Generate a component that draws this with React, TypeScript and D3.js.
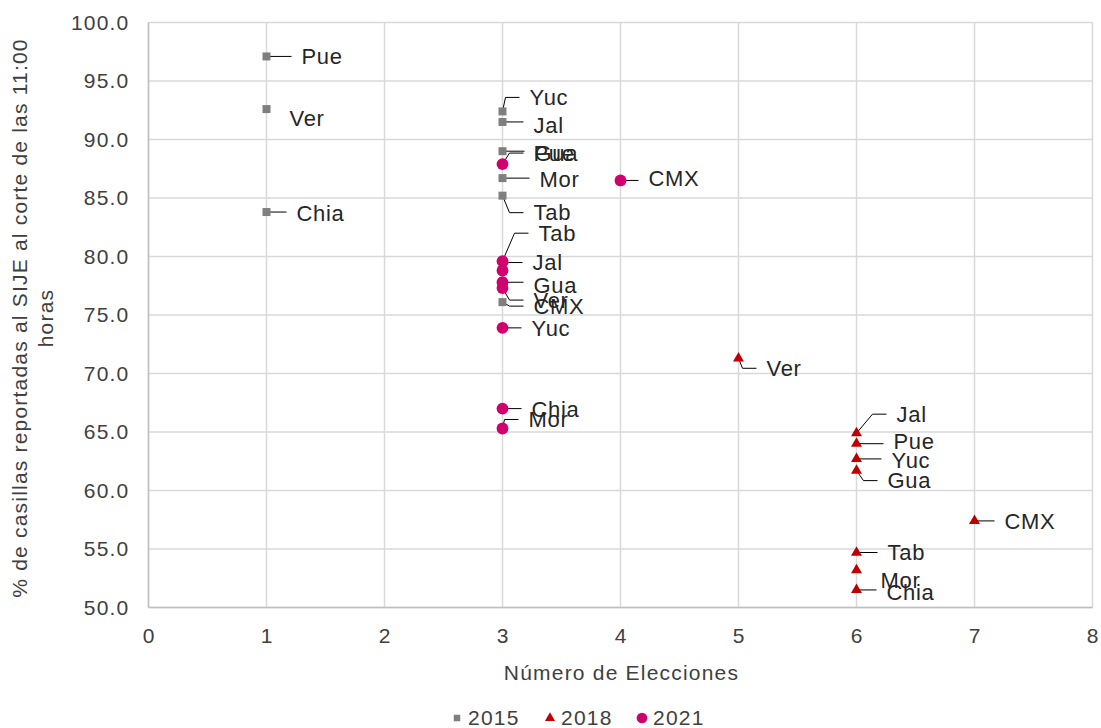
import { useEffect, useRef } from 'react';
import * as d3 from 'd3';

// 2015
const states2015 = ['Pue', 'Ver', 'Chia', 'Yuc', 'Jal', 'Gua', 'Mor', 'Tab', 'CMX'];
const elections2015 = [1, 1, 1, 3, 3, 3, 3, 3, 3];
const pct2015 = [97.1, 92.6, 83.8, 92.4, 91.5, 89.0, 86.7, 85.2, 76.1];

// 2018
const states2018 = ['Ver', 'Jal', 'Pue', 'Yuc', 'Gua', 'CMX', 'Tab', 'Mor', 'Chia'];
const elections2018 = [5, 6, 6, 6, 6, 7, 6, 6, 6];
const pct2018 = [71.3, 64.9, 64.0, 62.7, 61.7, 57.4, 54.7, 53.2, 51.5];

// 2021
const states2021 = ['Pue', 'CMX', 'Tab', 'Jal', 'Gua', 'Ver', 'Yuc', 'Chia', 'Mor'];
const elections2021 = [3, 4, 3, 3, 3, 3, 3, 3, 3];
const pct2021 = [87.9, 86.5, 79.6, 78.8, 77.8, 77.3, 73.9, 67.0, 65.3];

const xTicks = [0, 1, 2, 3, 4, 5, 6, 7, 8];
const yTicks = [50, 55, 60, 65, 70, 75, 80, 85, 90, 95, 100];
const seriesNames = ['2015', '2018', '2021'];

// label placement (px from marker), leader line flag — moved by hand like in Excel
type Off = [number, number, boolean];
const labelOff2015: Off[] = [
  [35, 0, true], [23, 9, false], [30, 1, true], [27, -14, true], [31, 3, true],
  [32, 2, true], [37, 1, true], [31, 17, true], [31, 4, true],
];
const labelOff2018: Off[] = [
  [28, 10, true], [40, -19, true], [37, -2, true], [35, 1, true], [31, 10, true],
  [30, 0, true], [31, 0, true], [24, 10, false], [30, 2, true],
];
const labelOff2021: Off[] = [
  [31, -11, true], [28, -2, true], [36, -28, true], [30, -8, true], [31, 3, true],
  [31, 12, true], [29, 0, true], [29, 1, true], [26, -9, true],
];

const FONT = '"Liberation Sans", Arial, sans-serif';
const COLORS = ['#7f7f7f', '#c00000', '#d1006e'];
const AXIS_TEXT = '#404040';

const App = () => {
  const svgRef = useRef<SVGSVGElement>(null);

  useEffect(() => {
    if (!svgRef.current) return;
    const W = 1101;
    const H = 728;
    const margin = { top: 22.5, right: 8.5, bottom: 120.5, left: 148.5 };
    const width = W - margin.left - margin.right;
    const height = H - margin.top - margin.bottom;

    d3.select(svgRef.current).selectAll('*').remove();
    const root = d3.select(svgRef.current).attr('width', W).attr('height', H);
    const svg = root.append('g').attr('transform', `translate(${margin.left},${margin.top})`);

    const x = d3.scaleLinear().domain([0, 8]).range([0, width]);
    const y = d3.scaleLinear().domain([50, 100]).range([height, 0]);

    // grid
    svg.append('g')
      .selectAll('line')
      .data(yTicks)
      .enter()
      .append('line')
      .attr('x1', 0).attr('x2', width)
      .attr('y1', d => y(d)).attr('y2', d => y(d))
      .attr('stroke', '#d9d9d9').attr('stroke-width', 1.5);
    svg.append('g')
      .selectAll('line')
      .data(xTicks)
      .enter()
      .append('line')
      .attr('x1', d => x(d)).attr('x2', d => x(d))
      .attr('y1', 0).attr('y2', height)
      .attr('stroke', '#d9d9d9').attr('stroke-width', 1.5);

    // axis lines
    svg.append('line').attr('x1', 0).attr('x2', 0).attr('y1', 0).attr('y2', height)
      .attr('stroke', '#bfbfbf').attr('stroke-width', 1.5);
    svg.append('line').attr('x1', 0).attr('x2', width).attr('y1', height).attr('y2', height)
      .attr('stroke', '#bfbfbf').attr('stroke-width', 1.5);

    const axisText = (sel: any, size = 21) => sel
      .style('font-family', FONT)
      .style('font-size', `${size}px`)
      .style('letter-spacing', '1.2px')
      .style('fill', AXIS_TEXT);

    // tick labels
    svg.append('g')
      .selectAll('text')
      .data(yTicks)
      .enter()
      .append('text')
      .attr('x', -19)
      .attr('y', d => y(d))
      .attr('dy', '0.35em')
      .attr('text-anchor', 'end')
      .call(axisText)
      .text(d => d3.format('.1f')(d));

    svg.append('g')
      .selectAll('text')
      .data(xTicks)
      .enter()
      .append('text')
      .attr('x', d => x(d) + 0.6)
      .attr('y', height + 28)
      .attr('dy', '0.35em')
      .attr('text-anchor', 'middle')
      .call(axisText)
      .text(d => d);

    // axis titles
    svg.append('text')
      .attr('x', width / 2 + 1)
      .attr('y', height + 65)
      .attr('dy', '0.35em')
      .attr('text-anchor', 'middle')
      .call(axisText)
      .text('Número de Elecciones');

    const yTitle = svg.append('text')
      .attr('transform', `translate(${20 - margin.left},${height / 2 + 3}) rotate(-90)`)
      .attr('text-anchor', 'middle')
      .call(axisText);
    yTitle.append('tspan').attr('x', 0).attr('dy', '0.35em')
      .text('% de casillas reportadas al SIJE al corte de las 11:00');
    yTitle.append('tspan').attr('x', 0).attr('dy', '1.22em').text('horas');

    const series = [
      { states: states2015, xs: elections2015, ys: pct2015, offs: labelOff2015 },
      { states: states2018, xs: elections2018, ys: pct2018, offs: labelOff2018 },
      { states: states2021, xs: elections2021, ys: pct2021, offs: labelOff2021 },
    ];

    const symbols = [d3.symbolSquare, d3.symbolTriangle, d3.symbolCircle];
    const sizes = [64, 52, 110];

    // leader lines first so markers sit on top
    series.forEach(s => {
      s.states.forEach((_, i) => {
        const [dx, dy, leader] = s.offs[i];
        if (!leader) return;
        const mx = x(s.xs[i]);
        const my = y(s.ys[i]);
        const lx = mx + dx;
        const ly = my + dy;
        const pts: [number, number][] = Math.abs(dy) < 4
          ? [[mx, my], [lx - 10, my]]
          : [[mx, my], [lx - 24, ly], [lx - 10, ly]];
        svg.append('path')
          .attr('d', d3.line()(pts))
          .attr('fill', 'none')
          .attr('stroke', '#000')
          .attr('stroke-width', 1);
      });
    });

    series.forEach((s, k) => {
      svg.append('g')
        .selectAll('path')
        .data(s.states)
        .enter()
        .append('path')
        .attr('transform', (_, i) => `translate(${x(s.xs[i])},${y(s.ys[i])})`)
        .attr('d', d3.symbol().type(symbols[k]).size(sizes[k])())
        .attr('fill', COLORS[k]);
    });

    series.forEach(s => {
      svg.append('g')
        .selectAll('text')
        .data(s.states)
        .enter()
        .append('text')
        .attr('x', (_, i) => x(s.xs[i]) + s.offs[i][0])
        .attr('y', (_, i) => y(s.ys[i]) + s.offs[i][1])
        .attr('dy', '0.35em')
        .style('font-family', FONT)
        .style('font-size', '22px')
        .style('letter-spacing', '0.7px')
        .style('fill', '#262626')
        .text(d => d);
    });

    // legend
    const legendX = [457, 550, 642];
    const legendSizes = [42, 44, 90];
    const lg = root.append('g');
    seriesNames.forEach((name, k) => {
      lg.append('path')
        .attr('transform', `translate(${legendX[k]},${718})`)
        .attr('d', d3.symbol().type(symbols[k]).size(legendSizes[k])())
        .attr('fill', COLORS[k]);
      lg.append('text')
        .attr('x', legendX[k] + 11)
        .attr('y', 718)
        .attr('dy', '0.35em')
        .call(axisText)
        .text(name);
    });
  }, []);

  return (
    <div style={{ position: 'absolute', left: 0, top: 0, width: 1101, height: 728, background: '#fff' }}>
      <svg ref={svgRef} style={{ display: 'block' }}></svg>
    </div>
  );
};

export default App;
